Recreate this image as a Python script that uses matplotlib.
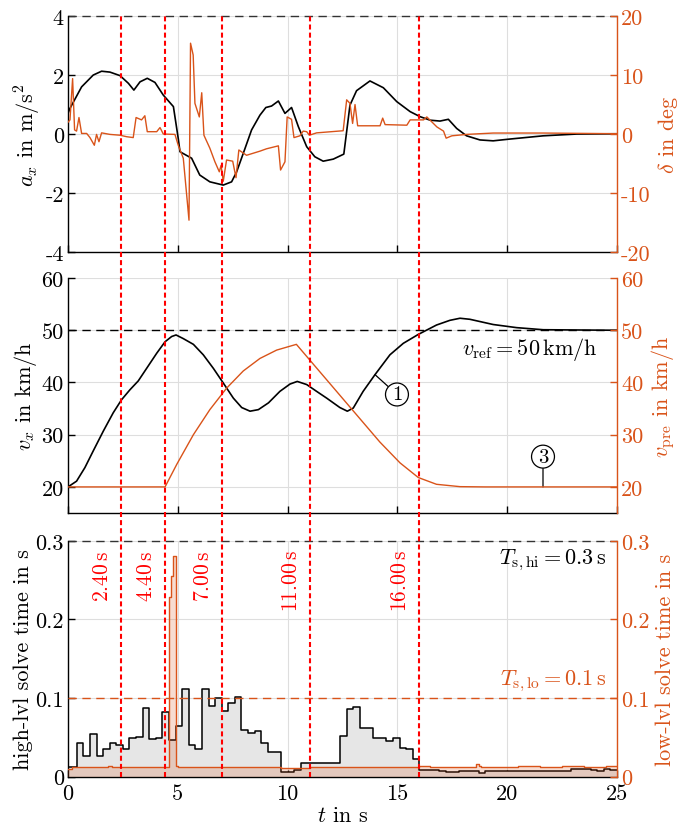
import numpy as np
import matplotlib
matplotlib.use('Agg')
import matplotlib.pyplot as plt
from matplotlib.transforms import blended_transform_factory
from matplotlib.lines import Line2D

plt.rcParams['font.family'] = 'cmr10'
plt.rcParams['mathtext.fontset'] = 'cm'
plt.rcParams['axes.unicode_minus'] = False
plt.rcParams['axes.formatter.use_mathtext'] = True
plt.rcParams['font.size'] = 16

ORANGE = '#D95319'

# --- top panel: longitudinal acceleration and steering angle
ax_t = [0.0, 0.09, 0.62, 1.15, 1.53, 1.91, 2.37, 2.75, 3.0, 3.28, 3.61, 3.96, 4.34, 4.8,
        5.02, 5.1, 5.63, 6.0, 6.46, 7.07, 7.45, 7.68, 8.06, 8.36, 8.74, 9.01, 9.27, 9.58,
        9.88, 10.18, 10.49, 10.87, 11.24, 11.62, 12.08, 12.56, 12.84, 13.14, 13.75, 14.36,
        14.97, 15.58, 16.03, 16.49, 16.94, 17.32, 17.7, 18.15, 18.76, 19.36, 20.12, 21.64,
        23.16, 25.0]
ax_v = [0.7, 0.87, 1.6, 2.0, 2.13, 2.1, 1.98, 1.72, 1.49, 1.77, 1.89, 1.75, 1.32, 0.93,
        -0.15, -0.6, -0.82, -1.39, -1.62, -1.73, -1.62, -1.28, -0.49, 0.14, 0.64, 0.9, 0.95,
        1.12, 0.7, 0.9, 0.25, -0.43, -0.77, -0.92, -0.85, -0.68, 0.98, 1.47, 1.8, 1.57,
        1.1, 0.76, 0.59, 0.47, 0.44, 0.5, 0.19, -0.06, -0.2, -0.23, -0.17, -0.06,
        0.0, 0.01]

delta_t = [0.0, 0.09, 0.21, 0.3, 0.39, 0.5, 0.62, 0.85, 1.0, 1.2, 1.3, 1.41, 1.53, 1.91,
           2.37, 2.67, 2.97, 3.1, 3.35, 3.5, 3.61, 4.04, 4.19, 4.34, 4.87, 5.02, 5.25, 5.51,
           5.58, 5.7, 5.78, 5.98, 6.09, 6.19, 6.46, 6.69, 6.89, 6.97, 7.07, 7.22, 7.5, 7.65,
           7.78, 8.13, 8.74, 9.04, 9.58, 9.68, 9.88, 9.98, 10.18, 10.29, 10.56, 10.71, 10.87,
           10.99, 11.32, 12.53, 12.69, 12.84, 12.96, 13.07, 13.19, 14.21, 14.33, 14.44,
           15.43, 15.58, 16.19, 16.34, 16.8, 17.1, 17.22, 17.48, 18.15, 19.36, 21.64, 25.0]
delta_v = [2.0, 2.4, 9.4, 0.7, 0.5, 2.8, 0.1, 0.1, -0.6, -1.9, -0.06, -1.3, 0.2, -0.06,
           -0.2, -0.45, -0.6, 2.8, 2.4, 3.1, 0.4, 0.4, 1.1, 0.0, -0.06, -1.9, -4.1, -14.6,
           15.4, 13.4, 5.2, 2.9, 7.0, -0.2, -2.4, -4.7, -6.4, -5.3, -8.0, -4.4, -4.6, -7.4,
           -2.7, -3.6, -2.9, -2.5, -2.0, -6.1, -4.7, 2.9, 2.5, -0.6, -0.3, 0.5, 0.4,
           -0.2, 0.2, 0.56, 5.8, 5.2, 1.8, 5.0, 1.4, 1.4, 2.7, 1.6,
           1.5, 2.4, 2.4, 2.9, 1.2, 0.5, -0.7, -0.3, -0.06, 0.17, 0.17, 0.06]

# --- middle panel: velocities
vx_t = [0.0, 0.39, 0.77, 1.15, 1.61, 2.06, 2.44, 2.82, 3.2, 3.58, 4.04, 4.42, 4.72, 4.92,
        5.25, 5.71, 6.16, 6.62, 7.07, 7.53, 7.91, 8.29, 8.67, 9.13, 9.65, 10.11, 10.44,
        10.87, 11.32, 11.78, 12.38, 12.72, 12.99, 13.44, 13.98, 14.66, 15.27, 15.95, 16.78,
        17.39, 17.85, 18.3, 19.36, 20.43, 21.64, 25.0]
vx_v = [20.0, 21.1, 23.7, 26.9, 30.7, 34.2, 36.7, 38.6, 40.3, 42.7, 45.6, 47.8, 48.8, 49.1,
        48.4, 47.3, 45.3, 42.7, 39.9, 37.0, 35.2, 34.5, 34.8, 36.1, 38.3, 39.7, 40.2,
        39.6, 38.3, 37.0, 35.2, 34.5, 35.1, 38.3, 41.5, 45.3, 47.5, 49.2, 51.0,
        51.9, 52.3, 52.1, 51.1, 50.5, 50.1, 50.0]

vpre_t = [0.0, 4.42, 4.95, 5.71, 6.46, 7.22, 7.98, 8.74, 9.5, 10.4, 14.2, 15.12, 15.95,
          16.78, 17.85, 19.0, 25.0]
vpre_v = [20.0, 20.0, 24.3, 30.0, 34.8, 38.9, 42.2, 44.6, 46.2, 47.3, 28.6, 24.6, 21.8,
          20.5, 20.05, 20.0, 20.0]

# --- bottom panel: solver times (high level every 0.3 s)
hi_vals = [0.012, 0.043, 0.026, 0.054, 0.027, 0.035, 0.043, 0.040, 0.035, 0.049,
           0.050, 0.087, 0.048, 0.049, 0.082, 0.047, 0.064, 0.111, 0.040, 0.035,
           0.111, 0.090, 0.100, 0.084, 0.094, 0.101, 0.060, 0.056, 0.058, 0.043,
           0.031, 0.031, 0.006, 0.006, 0.009, 0.018, 0.017, 0.017, 0.017, 0.017,
           0.017, 0.052, 0.086, 0.089, 0.062, 0.062, 0.049, 0.049, 0.045, 0.049,
           0.037, 0.035, 0.023, 0.008, 0.008, 0.008, 0.0075, 0.0065, 0.0065, 0.0075,
           0.0075, 0.0075, 0.005, 0.0075, 0.0075, 0.007, 0.0075, 0.0075, 0.007, 0.0075,
           0.0075, 0.007, 0.0075, 0.0075, 0.007, 0.0075, 0.0095, 0.0095, 0.0095, 0.0085,
           0.0075, 0.0095, 0.0085]
hi_start = 0.1
hi_period = 0.3

lo_t = [0.0, 0.2, 1.8, 2.0, 2.6, 4.6, 4.7, 4.8, 4.9, 5.0, 6.0, 7.2, 8.0, 9.0, 9.7, 10.5,
        11.0, 12.0, 13.0, 14.0, 15.0, 16.0, 16.5, 17.5, 18.6, 18.7, 18.8, 19.5, 20.5, 21.5,
        22.5, 23.5, 24.5, 25.0]
lo_v = [0.010, 0.0125, 0.0135, 0.0125, 0.0125, 0.228, 0.255, 0.280, 0.0135, 0.0125,
        0.013, 0.012, 0.0125, 0.0125, 0.011, 0.0115, 0.0125, 0.0125, 0.0125, 0.013,
        0.0125, 0.0135, 0.013, 0.0125, 0.016, 0.0135, 0.0125, 0.013, 0.0135, 0.013,
        0.0135, 0.013, 0.0135, 0.0135]

events = [2.4, 4.4, 7.0, 11.0, 16.0]
v_ref = 50
T_hi = 0.3
T_lo = 0.1


def style(ax, axr, ylim, yticks, ylabels, rlim, rticks, rlabels):
    ax.set_xlim(0, 25)
    ax.set_ylim(*ylim)
    ax.set_yticks(yticks)
    ax.set_yticklabels(ylabels)
    axr.set_ylim(*rlim)
    axr.set_yticks(rticks)
    axr.set_yticklabels(rlabels)
    ax.set_xticks([0, 5, 10, 15, 20, 25])
    ax.grid(True, color='#dedede', lw=0.8)
    ax.set_axisbelow(True)
    for s in ['top', 'right']:
        ax.spines[s].set_visible(False)
    for s in ['top', 'left', 'bottom']:
        axr.spines[s].set_visible(False)
    axr.spines['right'].set_color(ORANGE)
    ax.spines['left'].set_linewidth(1.0)
    ax.spines['bottom'].set_linewidth(1.0)
    axr.spines['right'].set_linewidth(1.0)
    ax.tick_params(direction='in', length=5, width=1.0, labelsize=16, pad=3)
    axr.tick_params(direction='in', length=5, width=1.0, labelsize=16, pad=3,
                    colors=ORANGE)


fig = plt.figure(figsize=(6.82, 8.28), dpi=100)
L, W = 0.0997, 0.805
ax1 = fig.add_axes([L, 0.6944, W, 0.2850])
ax2 = fig.add_axes([L, 0.3792, W, 0.2838])
ax3 = fig.add_axes([L, 0.0607, W, 0.2850])
ax1r = ax1.twinx()
ax2r = ax2.twinx()
ax3r = ax3.twinx()

# top
style(ax1, ax1r, (-4, 4), [-4, -2, 0, 2, 4], ['-4', '-2', '0', '2', '4'],
      (-20, 20), [-20, -10, 0, 10, 20], ['-20', '-10', '0', '10', '20'])
ax1.axhline(4, color='#333333', ls=(0, (6, 4)), lw=1.0, clip_on=False)
ax1.plot(ax_t, ax_v, color='black', lw=1.2)
ax1r.plot(delta_t, delta_v, color=ORANGE, lw=1.0)
ax1.set_xticklabels([])
ax1.set_ylabel(r'$a_x$ in m/s$^2$', labelpad=2)
ax1r.set_ylabel(r'$\delta$ in deg', color=ORANGE, labelpad=4)

# middle
style(ax2, ax2r, (15, 60), [20, 30, 40, 50, 60], ['20', '30', '40', '50', '60'],
      (15, 60), [20, 30, 40, 50, 60], ['20', '30', '40', '50', '60'])
ax2.axhline(v_ref, color='black', ls=(0, (6, 4)), lw=1.0)
ax2.plot(vx_t, vx_v, color='black', lw=1.2)
ax2r.plot(vpre_t, vpre_v, color=ORANGE, lw=1.0)
ax2.set_xticklabels([])
ax2.set_ylabel(r'$v_x$ in km/h', labelpad=2)
ax2r.set_ylabel(r'$v_\mathrm{pre}$ in km/h', color=ORANGE, labelpad=4)
ax2.text(24.1, 49.0, r'$v_\mathrm{ref} = 50\,\mathrm{km/h}$', ha='right', va='top',
         fontsize=16)
ax2.annotate('1', xy=(13.98, 41.5), xytext=(14.98, 37.7), ha='center', va='center',
             fontsize=15,
             bbox=dict(boxstyle='circle,pad=0.12', fc='white', ec='black', lw=0.9),
             arrowprops=dict(arrowstyle='-', color='black', lw=0.9, shrinkA=0, shrinkB=0))
ax2.annotate('3', xy=(21.63, 20.0), xytext=(21.63, 25.8), ha='center', va='center',
             fontsize=15,
             bbox=dict(boxstyle='circle,pad=0.12', fc='white', ec='black', lw=0.9),
             arrowprops=dict(arrowstyle='-', color='black', lw=0.9, shrinkA=0, shrinkB=0))

# bottom
style(ax3, ax3r, (0, 0.3), [0, 0.1, 0.2, 0.3], ['0', '0.1', '0.2', '0.3'],
      (0, 0.3), [0, 0.1, 0.2, 0.3], ['0', '0.1', '0.2', '0.3'])
hi_t = [0.0] + [hi_start + hi_period * k for k in range(len(hi_vals))] + [25.0]
hi_v = [hi_vals[0]] + hi_vals + [hi_vals[-1]]
ax3.fill_between(hi_t, hi_v, step='post', color='#e6e6e6', lw=0)
ax3.step(hi_t, hi_v, where='post', color='black', lw=1.1)
ax3.axhline(T_hi, color='#333333', ls=(0, (6, 4)), lw=1.0, clip_on=False)
ax3r.fill_between(lo_t, lo_v, step='post', color=ORANGE, alpha=0.2, lw=0)
ax3r.step(lo_t, lo_v, where='post', color=ORANGE, lw=1.0)
ax3r.axhline(T_lo, color=ORANGE, ls=(0, (6, 4)), lw=1.0)
ax3.set_xticklabels(['0', '5', '10', '15', '20', '25'])
ax3.tick_params(axis='x', pad=5)
ax3.set_xlabel(r'$t$ in s', labelpad=2)
ax3.set_ylabel('high-lvl solve time in s', labelpad=2)
ax3r.set_ylabel('low-lvl solve time in s', color=ORANGE, labelpad=4)
ax3.text(24.5, 0.277, r'$T_\mathrm{s,hi} = 0.3\,\mathrm{s}$', ha='right', va='center',
         fontsize=16)
ax3r.text(24.5, 0.123, r'$T_\mathrm{s,lo} = 0.1\,\mathrm{s}$', ha='right', va='center',
          fontsize=16, color=ORANGE)
for ev in events:
    ax3r.text(ev - 0.85, 0.289, '%.2f' % ev + r'$\,$s', rotation=90, ha='center',
              va='top', color='red', fontsize=15.5)

# red event markers through all panels
tr = blended_transform_factory(ax1.transData, fig.transFigure)
for ev in events:
    fig.add_artist(Line2D([ev, ev], [0.0607, 0.9795], transform=tr, color='red',
                          ls=(0, (2.4, 1.5)), lw=1.5))

fig.savefig('out.png', dpi=100)
